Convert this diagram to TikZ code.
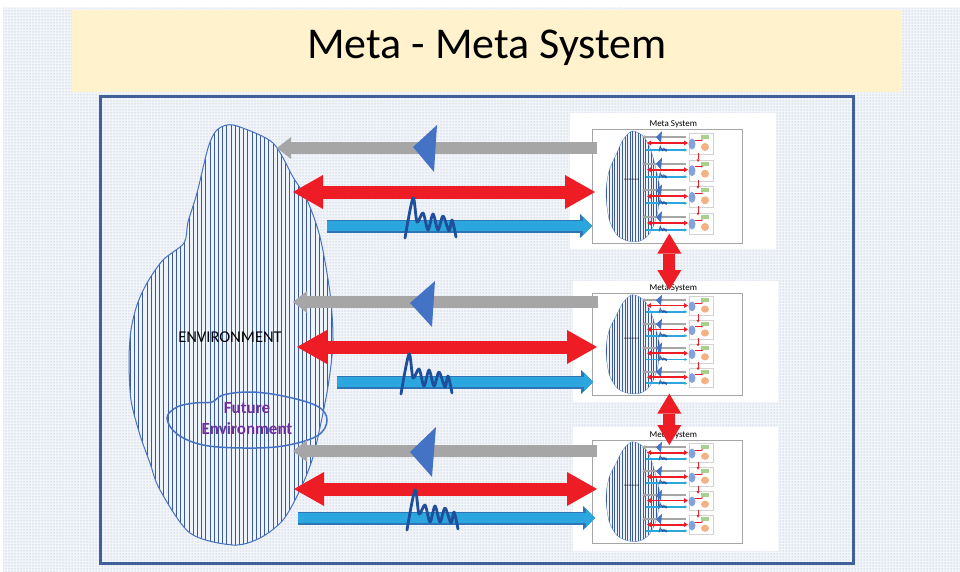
\documentclass[tikz,border=0pt]{standalone}
\usepackage{fontspec}
\setmainfont{Carlito}
\usepackage{tikz}
\usetikzlibrary{positioning, arrows.meta, calc, patterns}

\definecolor{bandyellow}{HTML}{FFF2CC}
\definecolor{framebl}{HTML}{41609A}
\definecolor{stripebl}{HTML}{3C5A96}
\definecolor{outlinebl}{HTML}{4472C4}
\definecolor{blobfill}{HTML}{EEF2F9}
\definecolor{arrred}{HTML}{EE1C25}
\definecolor{arrgrey}{HTML}{A6A6A6}
\definecolor{arrblue}{HTML}{2CA6DF}
\definecolor{arrbluedk}{HTML}{2E75B6}
\definecolor{squigbl}{HTML}{1F4E9A}
\definecolor{futpurple}{HTML}{7030A0}
\definecolor{bgdot}{HTML}{A7B4CA}
\definecolor{bgbase}{HTML}{F1F4F8}
\definecolor{cluorange}{HTML}{F4B183}
\definecolor{clugreen}{HTML}{A9D18E}

% small meta system, local frame: box 150 wide, rows every 26.7
\newcommand{\minimeta}{%
  \begin{scope}
    \clip plot[smooth cycle] coordinates {(40,2) (51,7) (58,19) (64,40) (68,62) (65,86) (58,104) (48,112) (36,112) (25,106) (17,90) (14,64) (17,42) (24,26) (31,11)};
    \fill[blobfill] (10,0) rectangle (72,115);
    \foreach \sx in {12,14.6,...,70} {\draw[stripebl, line width=0.45pt] (\sx,0) -- (\sx,115);}
  \end{scope}
  \draw[outlinebl, line width=0.3pt] plot[smooth cycle] coordinates {(40,2) (51,7) (58,19) (64,40) (68,62) (65,86) (58,104) (48,112) (36,112) (25,106) (17,90) (14,64) (17,42) (24,26) (31,11)};
  \node[font=\fontsize{2.4}{3}\selectfont, inner sep=0pt] at (40,51) {ENVIRONMENT};
  \foreach \ry in {8,34.7,61.3,88} {
    \draw[arrgrey, line width=2.2pt, -{Triangle[width=4pt,length=3pt,line width=0pt]}] (94,\ry) -- (50,\ry);
    \fill[outlinebl] (64,\ry) -- (70,\ry-6) -- (69,\ry+6) -- cycle;
    \draw[arrred, line width=1.8pt, {Triangle[width=5pt,length=4pt,line width=0pt]}-{Triangle[width=5pt,length=4pt,line width=0pt]}] (55,\ry+6) -- (96,\ry+6);
    \draw[arrblue, line width=1.8pt, -{Triangle[width=3.5pt,length=2.5pt,line width=0pt]}] (54,\ry+13) -- (95,\ry+13);
    \begin{scope}[shift={(67,\ry+13)}, scale=0.15]
      \draw[squigbl, line width=0.5pt] plot[smooth, tension=0.5] coordinates {(0,12) (8,-28) (12,-4) (18,-13) (23,4) (28,-12) (33,4) (38,-10) (44,5) (47,-6) (51,11)};
    \end{scope}
    % cluster
    \draw[gray!35, line width=0.3pt] (97,\ry-4) rectangle (121,\ry+17);
    \fill[outlinebl!65] (100,\ry+7) ellipse (3.5 and 5.5);
    \fill[clugreen] (109,\ry-2) rectangle (117,\ry+2);
    \fill[cluorange] (113,\ry+10) circle (4);
    \draw[arrred, line width=0.6pt, -{Triangle[width=2pt,length=1.5pt,line width=0pt]}] (103,\ry+3) -- (111,\ry+3);
  }
  \foreach \ry in {8,34.7,61.3} {
    \draw[arrred, line width=0.8pt, -{Triangle[width=3pt,length=2.5pt,line width=0pt]}] (106,\ry+16) -- (106,\ry+25);
  }
}

\begin{document}
\begin{tikzpicture}[x=1pt, y=-1pt,
    msbox/.style={draw=gray!70, line width=0.6pt, minimum width=150pt, inner sep=0pt, anchor=north west},
    mstitle/.style={font=\fontsize{9}{10}\selectfont, inner sep=1pt, anchor=south},
    greyarr/.style={arrgrey, line width=12pt, -{Triangle[width=22pt,length=14pt,line width=0pt]}},
    redarr/.style={arrred, line width=13pt, {Triangle[width=34pt,length=30pt,line width=0pt]}-{Triangle[width=34pt,length=30pt,line width=0pt]}},
    bluearr/.style={arrblue, line width=10pt, -{Triangle[width=19pt,length=9pt,line width=0pt]},
        preaction={draw=arrbluedk, line width=13pt, -{Triangle[width=24pt,length=12pt,line width=0pt]}}},
    vredarr/.style={arrred, line width=12pt, {Triangle[width=24pt,length=20pt,line width=0pt]}-{Triangle[width=24pt,length=20pt,line width=0pt]}},
    squigline/.style={squigbl, line width=2.8pt, line join=round, line cap=round},
    tri/.style={fill=outlinebl}
]
\useasboundingbox (0,0) rectangle (960,572);

% ==========================================
% BACKGROUND AND TITLE
% ==========================================
\fill[bgbase] (3,8) rectangle (960,572);
\fill[pattern=dots, pattern color=bgdot] (3,8) rectangle (960,572);

\node[fill=bandyellow, minimum width=830pt, minimum height=82pt, inner sep=0pt, anchor=north west] (band) at (72,10) {};
\node[font=\fontsize{44}{50}\selectfont] (title) at (487,48) {Meta - Meta System};

\draw[framebl, line width=3pt] (100,97) rectangle (853,563);

% ==========================================
% ENVIRONMENT
% ==========================================
\begin{scope}
    \clip plot[smooth cycle] coordinates {(227,125) (240,127) (273,143) (293,177) (307,200) (320,237) (330,293) (333,340) (329,380) (323,413) (313,457) (300,490) (283,520) (260,538) (233,545) (190,533) (160,490) (150,463) (140,435) (131,400) (129,360) (131,330) (137,305) (147,283) (163,260) (184,243) (188,222) (197,193) (208,148) (216,131)};
    \fill[blobfill] (120,120) rectangle (340,550);
    \foreach \sx in {126,130.2,...,336} {\draw[stripebl, line width=1pt] (\sx,120) -- (\sx,550);}
\end{scope}
\draw[outlinebl, line width=1pt] plot[smooth cycle] coordinates {(227,125) (240,127) (273,143) (293,177) (307,200) (320,237) (330,293) (333,340) (329,380) (323,413) (313,457) (300,490) (283,520) (260,538) (233,545) (190,533) (160,490) (150,463) (140,435) (131,400) (129,360) (131,330) (137,305) (147,283) (163,260) (184,243) (188,222) (197,193) (208,148) (216,131)};

\node[font=\fontsize{16.5}{18}\selectfont, inner sep=1pt] (env) at (230,337) {ENVIRONMENT};

% Future environment
\draw[outlinebl, line width=1.5pt] plot[smooth cycle, tension=0.6] coordinates {(167,418) (177,407) (195,403) (212,402) (223,395) (250,392) (283,396) (317,406) (327,420) (317,436) (283,446) (243,448) (203,445) (177,434)};
\node[font=\bfseries\fontsize{17}{21}\selectfont, text=futpurple, align=center, inner sep=0pt] (fut) at (247,419) {Future\\Environment};

% ==========================================
% META SYSTEMS
% ==========================================
\fill[white] (570,113) rectangle (776,249);
\node[msbox, minimum height=114pt] (ms1) at (592,129) {};
\node[mstitle] at ([xshift=6pt]ms1.north) {Meta System};
\begin{scope}[shift={(ms1.north west)}]
    \minimeta
\end{scope}

\fill[white] (573,281) rectangle (778,402);
\node[msbox, minimum height=102pt] (ms2) at (592,293) {};
\node[mstitle] at ([xshift=6pt]ms2.north) {Meta System};
\begin{scope}[shift={(ms2.north west)}, yscale=0.895]
    \minimeta
\end{scope}

\fill[white] (573,427) rectangle (778,551);
\node[msbox, minimum height=103pt] (ms3) at (592,440) {};
\node[mstitle] at ([xshift=6pt]ms3.north) {Meta System};
\begin{scope}[shift={(ms3.north west)}, yscale=0.9]
    \minimeta
\end{scope}

% ==========================================
% EXCHANGES
% ==========================================
% Row 1
\coordinate (g1) at (277,148);
\coordinate (r1) at (293,192);
\coordinate (b1) at (327,226);
\draw[greyarr] ($(ms1.west |- g1)+(5,0)$) -- (g1);
\fill[tri] (413,147) -- (437,125) -- (434,172) -- cycle;
\draw[redarr] (r1) -- ($(ms1.west |- r1)+(3,0)$);
\draw[bluearr] (b1) -- (ms1.west |- b1);
\draw[squigline] plot[smooth, tension=0.5] coordinates {(405,238) (413,198) (417,222) (423,213) (428,230) (433,214) (438,230) (443,216) (449,231) (452,220) (456,237)};

% Row 2
\coordinate (g2) at (293,302);
\coordinate (r2) at (297,347);
\coordinate (b2) at (337,382);
\draw[greyarr] ($(ms2.west |- g2)+(6,0)$) -- (g2);
\fill[tri] (410,303) -- (435,281) -- (432,327) -- cycle;
\draw[redarr] (r2) -- ($(ms2.west |- r2)+(5,0)$);
\draw[bluearr] (b2) -- ($(ms2.west |- b2)+(1,0)$);
\draw[squigline] plot[smooth, tension=0.5] coordinates {(401,394) (409,354) (413,378) (419,369) (424,386) (429,370) (434,386) (439,372) (445,387) (448,376) (452,393)};

% Row 3
\coordinate (g3) at (293,451);
\coordinate (r3) at (294,489);
\coordinate (b3) at (298,518);
\draw[greyarr] ($(ms3.west |- g3)+(5,0)$) -- (g3);
\fill[tri] (410,452) -- (436,427) -- (432,477) -- cycle;
\draw[redarr] (r3) -- ($(ms3.west |- r3)+(5,0)$);
\draw[bluearr] (b3) -- ($(ms3.west |- b3)+(3,0)$);
\draw[squigline] plot[smooth, tension=0.5] coordinates {(407,530) (415,490) (419,514) (425,505) (430,522) (435,506) (440,522) (445,508) (451,523) (454,512) (458,529)};

% Between meta systems
\draw[vredarr] ($(ms1.south)+(2,-10)$) -- ($(ms2.north)+(2,-3)$);
\draw[vredarr] ($(ms2.south)+(2,-2)$) -- ($(ms3.north)+(2,5)$);

\end{tikzpicture}
\end{document}
